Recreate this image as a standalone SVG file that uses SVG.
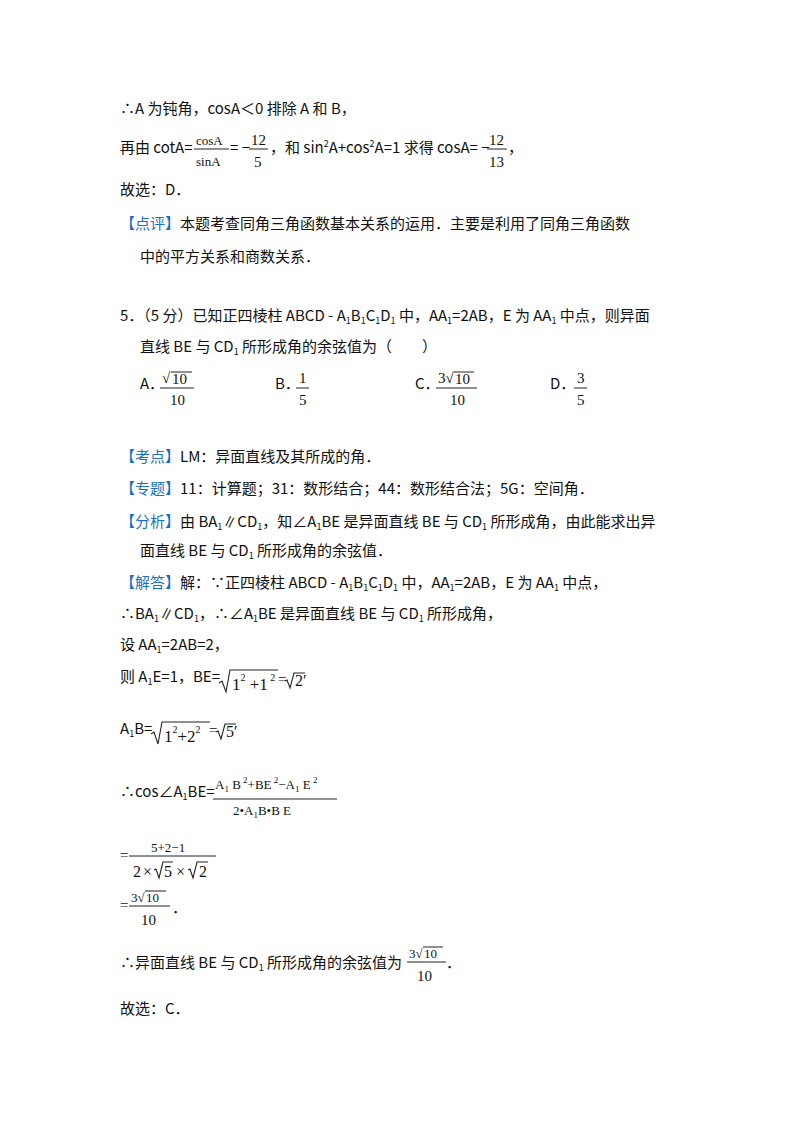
<svg xmlns="http://www.w3.org/2000/svg" width="800" height="1132" viewBox="0 0 800 1132">
<style>
text{font-family:"Noto Sans CJK SC","Noto Sans",sans-serif;font-size:15px;fill:#111}
.m{font-family:"Liberation Serif","DejaVu Serif",serif;font-size:15px}
.s{font-size:13px}
.b{fill:#1a6fc4}
.sub{font-size:9px}
line{stroke:#222;stroke-width:1}
.r{fill:none;stroke:#222;stroke-width:1.1}
</style>
<rect width="800" height="1132" fill="#fff"/>
<text x="120" y="114">∴A 为钝角，cosA＜0 排除 A 和 B，</text>
<text x="120" y="153">再由 cotA=</text>
<text class="m s" x="196" y="145">cosA</text><line x1="194" y1="149" x2="229" y2="149"/><text class="m s" x="196" y="166">sinA</text>
<text x="230" y="153">= −</text>
<text class="m" x="251" y="145">12</text><line x1="249" y1="149" x2="268" y2="149"/><text class="m" x="254" y="167">5</text>
<text x="270" y="153">，和 sin<tspan class="sub" dy="-6">2</tspan><tspan dy="6">A+cos</tspan><tspan class="sub" dy="-6">2</tspan><tspan dy="6">A=1 求得 cosA= −</tspan></text>
<text class="m" x="489" y="145">12</text><line x1="487" y1="149" x2="507" y2="149"/><text class="m" x="489" y="167">13</text>
<text x="508" y="153">，</text>
<text x="120" y="195">故选：D．</text>
<text x="120" y="229"><tspan class="b">【点评】</tspan>本题考查同角三角函数基本关系的运用．主要是利用了同角三角函数</text>
<text x="140" y="262">中的平方关系和商数关系．</text>

<text x="120" y="321">5．（5 分）已知正四棱柱 ABCD - A<tspan class="sub" dy="3">1</tspan><tspan dy="-3">B</tspan><tspan class="sub" dy="3">1</tspan><tspan dy="-3">C</tspan><tspan class="sub" dy="3">1</tspan><tspan dy="-3">D</tspan><tspan class="sub" dy="3">1</tspan><tspan dy="-3"> 中，AA</tspan><tspan class="sub" dy="3">1</tspan><tspan dy="-3">=2AB，E 为 AA</tspan><tspan class="sub" dy="3">1</tspan><tspan dy="-3"> 中点，则异面</tspan></text>
<text x="140" y="352">直线 BE 与 CD<tspan class="sub" dy="3">1</tspan><tspan dy="-3"> 所形成角的余弦值为（　　）</tspan></text>
<text x="140" y="389">A．</text>
<text class="m" x="162" y="383">√</text><line x1="171" y1="372" x2="192" y2="372"/><text class="m" x="172" y="384">10</text><line x1="160" y1="388" x2="194" y2="388"/><text class="m" x="170" y="405">10</text>
<text x="275" y="389">B．</text>
<text class="m" x="299" y="383">1</text><line x1="296" y1="388" x2="309" y2="388"/><text class="m" x="299" y="405">5</text>
<text x="415" y="389">C．</text>
<text class="m" x="438" y="383">3√</text><line x1="454" y1="372" x2="474" y2="372"/><text class="m" x="455" y="384">10</text><line x1="436" y1="388" x2="477" y2="388"/><text class="m" x="450" y="405">10</text>
<text x="550" y="389">D．</text>
<text class="m" x="577" y="383">3</text><line x1="574" y1="388" x2="587" y2="388"/><text class="m" x="577" y="405">5</text>

<text x="120" y="462"><tspan class="b">【考点】</tspan>LM：异面直线及其所成的角．</text>
<text x="120" y="494"><tspan class="b">【专题】</tspan>11：计算题；31：数形结合；44：数形结合法；5G：空间角．</text>
<text x="120" y="527"><tspan class="b">【分析】</tspan>由 BA<tspan class="sub" dy="3">1</tspan><tspan dy="-3">∥CD</tspan><tspan class="sub" dy="3">1</tspan><tspan dy="-3">，知∠A</tspan><tspan class="sub" dy="3">1</tspan><tspan dy="-3">BE 是异面直线 BE 与 CD</tspan><tspan class="sub" dy="3">1</tspan><tspan dy="-3"> 所形成角，由此能求出异</tspan></text>
<text x="140" y="556">面直线 BE 与 CD<tspan class="sub" dy="3">1</tspan><tspan dy="-3"> 所形成角的余弦值．</tspan></text>
<text x="120" y="588"><tspan class="b">【解答】</tspan>解：∵正四棱柱 ABCD - A<tspan class="sub" dy="3">1</tspan><tspan dy="-3">B</tspan><tspan class="sub" dy="3">1</tspan><tspan dy="-3">C</tspan><tspan class="sub" dy="3">1</tspan><tspan dy="-3">D</tspan><tspan class="sub" dy="3">1</tspan><tspan dy="-3"> 中，AA</tspan><tspan class="sub" dy="3">1</tspan><tspan dy="-3">=2AB，E 为 AA</tspan><tspan class="sub" dy="3">1</tspan><tspan dy="-3"> 中点，</tspan></text>
<text x="120" y="619">∴BA<tspan class="sub" dy="3">1</tspan><tspan dy="-3">∥CD</tspan><tspan class="sub" dy="3">1</tspan><tspan dy="-3">，∴∠A</tspan><tspan class="sub" dy="3">1</tspan><tspan dy="-3">BE 是异面直线 BE 与 CD</tspan><tspan class="sub" dy="3">1</tspan><tspan dy="-3"> 所形成角，</tspan></text>
<text x="120" y="650">设 AA<tspan class="sub" dy="3">1</tspan><tspan dy="-3">=2AB=2，</tspan></text>

<text x="120" y="682">则 A<tspan class="sub" dy="3">1</tspan><tspan dy="-3">E=1，BE=</tspan></text>
<path class="r" d="M219,683 L222,681 L226,692 L230,670 L278,670"/>
<text class="m" x="232" y="690" style="font-size:17px">1<tspan style="font-size:10px" dy="-9">2</tspan><tspan dy="9"> +1</tspan><tspan style="font-size:10px" dy="-9"> 2</tspan></text>
<text class="m" x="278" y="684">=</text>
<path class="r" d="M285,681 L287,680 L290,688 L294,673 L305,673"/>
<text class="m" x="295" y="686" style="font-size:16px">2′</text>

<text x="120" y="734">A<tspan class="sub" dy="3">1</tspan><tspan dy="-3">B=</tspan></text>
<path class="r" d="M151,734 L154,732 L158,744 L162,722 L210,722"/>
<text class="m" x="164" y="742" style="font-size:17px">1<tspan style="font-size:10px" dy="-9">2</tspan><tspan dy="9">+2</tspan><tspan style="font-size:10px" dy="-9">2</tspan></text>
<text class="m" x="209" y="735">=</text>
<path class="r" d="M216,732 L218,731 L221,739 L225,724 L236,724"/>
<text class="m" x="226" y="737" style="font-size:16px">5′</text>

<text x="120" y="797">∴cos∠A<tspan class="sub" dy="3">1</tspan><tspan dy="-3">BE=</tspan></text>
<text class="m s" x="215" y="789">A<tspan class="sub" dy="3">1</tspan><tspan dy="-3"> B</tspan><tspan class="sub" dy="-6"> 2</tspan><tspan dy="6">+BE</tspan><tspan class="sub" dy="-6"> 2</tspan><tspan dy="6">−A</tspan><tspan class="sub" dy="3">1</tspan><tspan dy="-3"> E</tspan><tspan class="sub" dy="-6"> 2</tspan></text>
<line x1="213" y1="799" x2="337" y2="799"/>
<text class="m s" x="233" y="815">2•A<tspan class="sub" dy="3">1</tspan><tspan dy="-3">B•B  E</tspan></text>

<text class="m" x="120" y="860">=</text>
<text class="m s" x="151" y="852">5+2−1</text><line x1="129" y1="856" x2="216" y2="856"/>
<text class="m" x="133" y="877" style="font-size:16px">2<tspan x="143">×</tspan></text>
<path class="r" d="M154,870 L156,869 L159,878 L163,862 L173,862"/>
<text class="m" x="164" y="877" style="font-size:16px">5<tspan x="176">×</tspan></text>
<path class="r" d="M188,870 L190,869 L193,878 L197,862 L208,862"/>
<text class="m" x="199" y="877" style="font-size:16px">2</text>

<text class="m" x="120" y="910">=</text>
<text class="m s" x="131" y="902">3√</text><line x1="145" y1="891" x2="166" y2="891"/><text class="m s" x="146" y="902">10</text>
<line x1="129" y1="906" x2="170" y2="906"/><text class="m" x="141" y="925">10</text><text x="172" y="913">．</text>
<text x="120" y="968">∴异面直线 BE 与 CD<tspan class="sub" dy="3">1</tspan><tspan dy="-3"> 所形成角的余弦值为</tspan></text>
<text class="m s" x="409" y="958">3√</text><line x1="423" y1="947" x2="443" y2="947"/><text class="m s" x="424" y="958">10</text>
<line x1="407" y1="962" x2="446" y2="962"/><text class="m" x="417" y="981">10</text><text x="446" y="968">．</text>
<text x="120" y="1014">故选：C．</text>
</svg>
